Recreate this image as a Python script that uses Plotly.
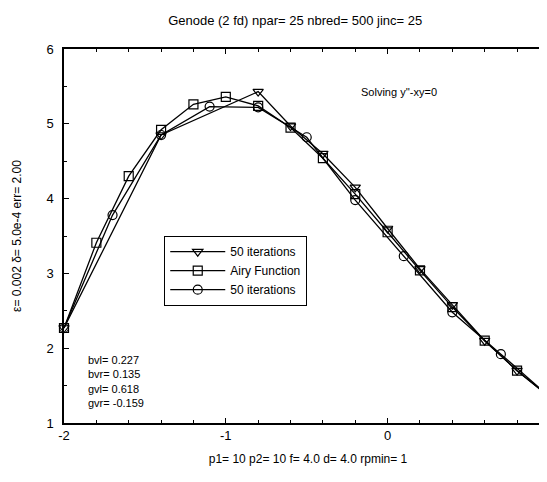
import plotly.graph_objects as go

# Series 1: "50 iterations" (triangles)
tri_x = [-2.0, -1.4, -0.8, -0.6, -0.4, -0.2, 0.0, 0.2, 0.4, 0.6, 0.8, 1.0]
tri_y = [2.27, 4.85, 5.43, 4.97, 4.60, 4.15, 3.60, 3.06, 2.58, 2.10, 1.70, 1.35]

# Series 2: "Airy Function" (squares)
sq_x = [-2.0, -1.8, -1.6, -1.4, -1.2, -1.0, -0.8, -0.6, -0.4, -0.2, 0.0, 0.2, 0.4, 0.6, 0.8, 1.0]
sq_y = [2.27, 3.41, 4.30, 4.92, 5.26, 5.36, 5.24, 4.95, 4.54, 4.06, 3.55, 3.04, 2.55, 2.10, 1.70, 1.35]

# Series 3: "50 iterations" (circles)
ci_x = [-2.0, -1.7, -1.4, -1.1, -0.8, -0.5, -0.2, 0.1, 0.4, 0.7, 1.0]
ci_y = [2.27, 3.78, 4.85, 5.23, 5.22, 4.82, 3.98, 3.23, 2.48, 1.92, 1.35]

x_ticks = [-2, -1, 0]
y_ticks = [1, 2, 3, 4, 5, 6]

FONT = "Liberation Sans, Arial, sans-serif"

fig = go.Figure()
series = [
    (tri_x, tri_y, "triangle-down-open", "50 iterations"),
    (sq_x, sq_y, "square-open", "Airy Function"),
    (ci_x, ci_y, "circle-open", "50 iterations"),
]
for xs, ys, sym, name in series:
    fig.add_trace(go.Scatter(
        x=xs, y=ys, mode="lines+markers", name=name, cliponaxis=False,
        line=dict(color="black", width=1.3),
        marker=dict(symbol=sym, size=9, color="black", line=dict(width=1.2, color="black")),
    ))

axis_common = dict(
    showgrid=False, zeroline=False, showline=True, linecolor="black", linewidth=1.5,
    mirror="ticks", ticks="inside", ticklen=5, tickcolor="black",
    tickfont=dict(family=FONT, size=13, color="black"),
    minor=dict(ticks="inside", ticklen=3, tickcolor="black"),
)

fig.update_layout(
    width=547, height=482,
    margin=dict(l=56, r=1, t=41, b=67),
    paper_bgcolor="white", plot_bgcolor="white",
    font=dict(family=FONT, size=12, color="black"),
    title=dict(text="Genode (2 fd) npar= 25 nbred= 500 jinc= 25", x=0.525, xanchor="center",
               y=0.975, yanchor="middle", font=dict(family=FONT, size=13, color="black")),
    xaxis=dict(range=[-2.0, 1.016], tickvals=x_ticks, ticktext=[str(v) for v in x_ticks],
               title=dict(text="p1= 10 p2= 10 f= 4.0 d= 4.0 rpmin= 1", standoff=12,
                          font=dict(family=FONT, size=12)),
               **axis_common),
    yaxis=dict(range=[1, 6], tickvals=y_ticks, ticktext=[str(v) for v in y_ticks],
               ticklabelstandoff=6,
               title=dict(text="ε= 0.002 δ= 5.0e-4 err= 2.00", standoff=22,
                          font=dict(family=FONT, size=12)),
               **axis_common),
    legend=dict(x=0.205, y=0.5, xanchor="left", yanchor="top",
                bgcolor="white", bordercolor="black", borderwidth=1.2,
                font=dict(family=FONT, size=12), tracegroupgap=0, itemwidth=55),
    showlegend=True,
)

fig.add_annotation(text="Solving y''-xy=0", xref="paper", yref="paper", x=0.604, y=0.885,
                   xanchor="left", yanchor="middle", showarrow=False,
                   font=dict(family=FONT, size=11))
fig.add_annotation(text="bvl= 0.227<br>bvr= 0.135<br>gvl= 0.618<br>gvr= -0.159",
                   xref="paper", yref="paper", x=0.045, y=0.19,
                   xanchor="left", yanchor="top", align="left", showarrow=False,
                   font=dict(family=FONT, size=11))

fig.write_html("out.html")
